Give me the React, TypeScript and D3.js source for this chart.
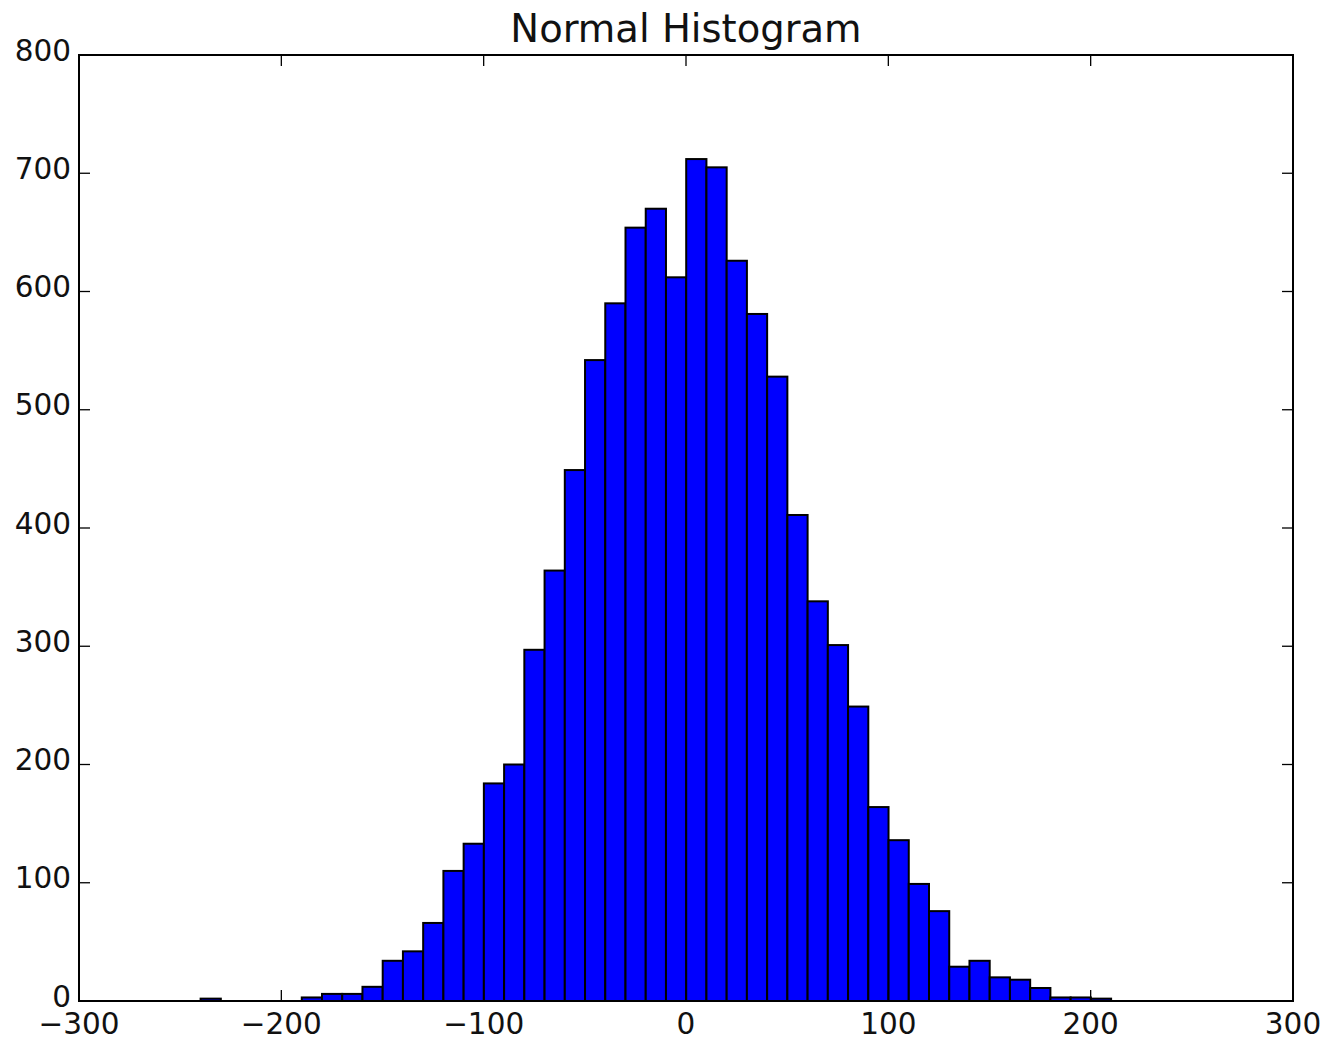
import React from "react";
import * as d3 from "d3";

// Histogram data (bin width 10, first bin starts near -240)
const binStart = -239.9;
const binWidth = 10;
const counts = [
  2, 0, 0, 0, 0, 3, 6, 6, 12, 34,
  42, 66, 110, 133, 184, 200, 297, 364, 449, 542,
  590, 654, 670, 612, 712, 705, 626, 581, 528, 411,
  338, 301, 249, 164, 136, 99, 76, 29, 34, 20,
  18, 11, 3, 3, 2,
];
const xTicks = [-300, -200, -100, 0, 100, 200, 300];
const yTicks = [0, 100, 200, 300, 400, 500, 600, 700, 800];
const title = "Normal Histogram";

const W = 1333;
const H = 1040;
const left = 79;
const right = 1293;
const top = 55;
const bottom = 1001;
const font = "'DejaVu Sans', sans-serif";

export default function App() {
  const x = d3.scaleLinear().domain([-300, 300]).range([left, right]);
  const y = d3.scaleLinear().domain([0, 800]).range([bottom, top]);
  const bins = counts.map((c, i) => ({
    x0: binStart + i * binWidth,
    x1: binStart + (i + 1) * binWidth,
    c,
  }));
  const tickLen = 11;
  return (
    <>
      <style>{`body{margin:0}`}</style>
      <svg width={W} height={H} style={{ display: "block", background: "#fff" }}>
        <rect x={0} y={0} width={W} height={H} fill="#fff" />
        {bins
          .filter((b) => b.c > 0)
          .map((b, i) => (
            <rect
              key={i}
              x={x(b.x0)}
              y={y(b.c)}
              width={x(b.x1) - x(b.x0)}
              height={y(0) - y(b.c)}
              fill="#0000ff"
              stroke="#000"
              strokeWidth={2}
            />
          ))}
        {/* ticks */}
        {xTicks.map((t) => (
          <g key={"xt" + t}>
            <line x1={x(t)} x2={x(t)} y1={bottom} y2={bottom - tickLen} stroke="#000" strokeWidth={1.3} />
            <line x1={x(t)} x2={x(t)} y1={top} y2={top + tickLen} stroke="#000" strokeWidth={1.3} />
            <text
              x={x(t)}
              y={1033.5}
              textAnchor="middle"
              fontFamily={font}
              fontSize={29.5}
              fill="#111"
            >
              {t < 0 ? "\u2212" + Math.abs(t) : String(t)}
            </text>
          </g>
        ))}
        {yTicks.map((t) => (
          <g key={"yt" + t}>
            <line x1={left} x2={left + tickLen} y1={y(t)} y2={y(t)} stroke="#000" strokeWidth={1.3} />
            <line x1={right} x2={right - tickLen} y1={y(t)} y2={y(t)} stroke="#000" strokeWidth={1.3} />
            <text
              x={71}
              y={y(t) + 5.7}
              textAnchor="end"
              fontFamily={font}
              fontSize={29.5}
              fill="#111"
            >
              {String(t)}
            </text>
          </g>
        ))}
        <rect
          x={left}
          y={top}
          width={right - left}
          height={bottom - top}
          fill="none"
          stroke="#000"
          strokeWidth={2}
        />
        <text
          x={(left + right) / 2}
          y={41.7}
          textAnchor="middle"
          fontFamily={font}
          fontSize={38.5}
          fill="#111"
        >
          {title}
        </text>
      </svg>
    </>
  );
}
